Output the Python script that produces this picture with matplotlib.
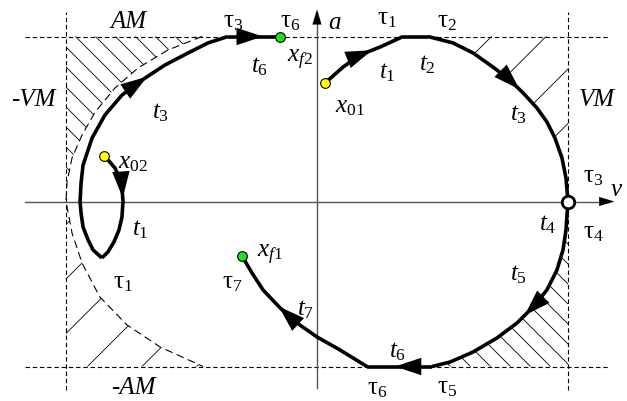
import numpy as np
import matplotlib.pyplot as plt
from matplotlib.patches import Polygon

plt.rcParams['font.family'] = 'Liberation Serif'
plt.rcParams['mathtext.fontset'] = 'custom'
plt.rcParams['mathtext.rm'] = 'Liberation Serif'
plt.rcParams['mathtext.it'] = 'Liberation Serif:italic'

# phase plane (v, a), scaled so that VM = AM = 1
# trajectory 1: x01 -> tau1 -> tau2 -> t4 -> tau5 -> tau6 -> xf1
seg1a_v = [0.032, 0.104, 0.171, 0.251, 0.343]
seg1a_a = [0.718, 0.815, 0.888, 0.936, 1.0]
seg1b_v = [0.343, 0.442]
seg1b_a = [1.0, 1.0]
seg1c_v = [0.442, 0.542, 0.622, 0.701, 0.769, 0.821, 0.876, 0.916, 0.948, 0.976, 0.992, 1.0]
seg1c_a = [1.0, 0.961, 0.900, 0.815, 0.736, 0.658, 0.567, 0.482, 0.385, 0.264, 0.142, 0.0]
seg1d_v = [1.0, 0.996, 0.992, 0.980, 0.956, 0.916, 0.861, 0.797, 0.717, 0.622, 0.530, 0.458]
seg1d_a = [0.0, -0.082, -0.173, -0.294, -0.415, -0.536, -0.639, -0.736, -0.827, -0.912, -0.973, -1.0]
seg1e_v = [0.458, 0.199]
seg1e_a = [-1.0, -1.0]
seg1f_v = [0.199, 0.092, 0.0, -0.080, -0.147, -0.215, -0.259, -0.299]
seg1f_a = [-1.0, -0.900, -0.821, -0.736, -0.645, -0.536, -0.433, -0.330]

# trajectory 2: x02 -> tau1 (cusp) -> tau3 -> xf2
seg2a_v = [-0.849, -0.825, -0.805, -0.789, -0.777, -0.773, -0.777, -0.789, -0.809, -0.833, -0.857]
seg2a_a = [0.276, 0.239, 0.203, 0.148, 0.088, 0.0, -0.094, -0.173, -0.245, -0.306, -0.342]
seg2b_v = [-0.857, -0.892, -0.912, -0.932, -0.940, -0.944, -0.940, -0.932, -0.896, -0.845,
           -0.777, -0.697, -0.606, -0.514, -0.434, -0.355]
seg2b_a = [-0.342, -0.294, -0.233, -0.155, -0.070, 0.0, 0.112, 0.221, 0.385, 0.524,
           0.645, 0.736, 0.827, 0.900, 0.961, 1.0]
seg2c_v = [-0.355, -0.147]
seg2c_a = [1.0, 1.0]

# dashed limit curve on the left
limit_v = [-0.458, -0.594, -0.713, -0.805, -0.884, -0.936, -0.976, -0.996, -1.0,
           -0.976, -0.936, -0.865, -0.757, -0.625, -0.454]
limit_a = [1.0, 0.918, 0.809, 0.688, 0.542, 0.403, 0.264, 0.118, 0.0,
           -0.191, -0.373, -0.579, -0.748, -0.882, -1.0]

SX, SY = 251.0, 165.0          # pixels per unit of v and a
X0, Y0 = 317.0, 201.5          # pixel position of the origin
W, H = 627, 401

fig = plt.figure(figsize=(W / 100, H / 100), dpi=100)
ax = fig.add_axes([0, 0, 1, 1])
ax.set_xlim(-X0 / SX, (W - X0) / SX)
ax.set_ylim(-(H - Y0) / SY, Y0 / SY)
ax.axis('off')

# axes with arrows
ax.plot([-1.163, 1.16], [0, 0], color='#555555', lw=1.0, zorder=2)
ax.plot([0, 0], [-1.13, 1.13], color='#555555', lw=1.0, zorder=2)
ax.annotate('', xy=(1.185, 0), xytext=(1.12, 0),
            arrowprops=dict(arrowstyle='-|>,head_length=1.0,head_width=0.3',
                            mutation_scale=11, color='k', lw=0, shrinkA=0, shrinkB=0))
ax.annotate('', xy=(0, 1.165), xytext=(0, 1.10),
            arrowprops=dict(arrowstyle='-|>,head_length=1.0,head_width=0.3',
                            mutation_scale=11, color='k', lw=0, shrinkA=0, shrinkB=0))

# limits
dash = dict(color='k', lw=0.8, ls=(0, (4, 2.5)), zorder=1)
ax.plot([-1.163, 1.167], [1, 1], **dash)
ax.plot([-1.163, 1.167], [-1, -1], **dash)
ax.plot([-1, -1], [-1.145, 1.148], **dash)
ax.plot([1, 1], [-1.145, 1.148], **dash)
ax.plot(limit_v, limit_a, color='k', lw=0.8, ls=(0, (7, 4)), zorder=1)


def hatch(verts, kind, spacing, offset):
    patch = Polygon(verts, closed=True, fill=False, lw=0)
    ax.add_patch(patch)
    vv = np.array([-1.4, 1.4])
    for c in np.arange(offset - 40 * spacing, offset + 40 * spacing, spacing):
        if kind == '\\':
            aa = (c - (X0 - Y0) - SX * vv) / SY
        else:
            aa = (X0 + Y0 + SX * vv - c) / SY
        ln, = ax.plot(vv, aa, color='k', lw=0.6, zorder=1)
        ln.set_clip_path(patch)


lim_top = list(zip(limit_v[:9], limit_a[:9]))
lim_bot = list(zip(limit_v[8:], limit_a[8:]))
hatch(lim_top + [(-1, 1)], '\\', 20, 19)
hatch(lim_bot + [(-1, -1)], '/', 54.5, 345)
hatch(list(zip(seg1c_v, seg1c_a)) + [(1, 1)], '/', 54.5, 528)
hatch(list(zip(seg1d_v, seg1d_a)) + [(1, -1)], '\\', 20, 4)

# trajectories
segs = [(seg1a_v, seg1a_a), (seg1b_v, seg1b_a), (seg1c_v, seg1c_a), (seg1d_v, seg1d_a),
        (seg1e_v, seg1e_a), (seg1f_v, seg1f_a), (seg2a_v, seg2a_a), (seg2b_v, seg2b_a),
        (seg2c_v, seg2c_a)]
for sv, sa in segs:
    ax.plot(sv, sa, color='k', lw=2.6, solid_joinstyle='round', solid_capstyle='butt', zorder=3)


def along(sv, sa, frac):
    x = np.asarray(sv) * SX
    y = np.asarray(sa) * SY
    s = np.concatenate([[0], np.cumsum(np.hypot(np.diff(x), np.diff(y)))])
    t = frac * s[-1]
    return np.interp(t, s, sv), np.interp(t, s, sa), np.interp(t - 8, s, sv), np.interp(t - 8, s, sa)


arrow_list = [(seg1a_v, seg1a_a, 0.63), (seg1c_v, seg1c_a, 0.46), (seg1d_v, seg1d_a, 0.54),
              (seg1e_v, seg1e_a, 0.57), (seg1f_v, seg1f_a, 0.63), (seg2a_v, seg2a_a, 0.42),
              (seg2b_v, seg2b_a, 0.70), (seg2c_v, seg2c_a, 0.67)]
for sv, sa, f in arrow_list:
    tv, ta, bv, ba = along(sv, sa, f)
    ax.annotate('', xy=(tv, ta), xytext=(bv, ba),
                arrowprops=dict(arrowstyle='-|>,head_length=1.0,head_width=0.33',
                                mutation_scale=19, color='k', lw=0, shrinkA=0, shrinkB=0),
                zorder=4)

# start / end points
ax.plot([seg1a_v[0], seg2a_v[0]], [seg1a_a[0], seg2a_a[0]], 'o', ms=7, mfc='#ffff00',
        mec='k', mew=0.8, zorder=5)
ax.plot([seg1f_v[-1], seg2c_v[-1]], [seg1f_a[-1], seg2c_a[-1]], 'o', ms=7, mfc='#22dd22',
        mec='k', mew=0.8, zorder=5)
ax.plot([seg1c_v[-1]], [seg1c_a[-1]], 'o', ms=9, mfc='white', mec='k', mew=2, zorder=5)

# labels
fs = 18
labels = [
    (r'$\mathrm{\tau}_3$', -0.335, 1.088), (r'$\mathrm{\tau}_6$', -0.108, 1.088),
    (r'$t_6$', -0.227, 0.815), (r'$x_{f2}$', -0.068, 0.858), (r'$t_3$', -0.625, 0.536),
    (r'$x_{02}$', -0.733, 0.233), (r'$a$', 0.072, 1.082),
    (r'$\mathrm{\tau}_1$', 0.279, 1.105), (r'$\mathrm{\tau}_2$', 0.518, 1.088),
    (r'$t_1$', 0.279, 0.779), (r'$t_2$', 0.438, 0.827), (r'$x_{01}$', 0.131, 0.573),
    (r'$t_3$', 0.801, 0.524), (r'$\mathrm{\tau}_3$', 1.100, 0.148), (r'$v$', 1.195, 0.07),
    (r'$t_4$', 0.920, -0.142), (r'$\mathrm{\tau}_4$', 1.100, -0.191), (r'$t_5$', 0.801, -0.445),
    (r'$t_6$', 0.319, -0.912), (r'$\mathrm{\tau}_6$', 0.239, -1.135),
    (r'$\mathrm{\tau}_5$', 0.518, -1.13), (r'$t_7$', -0.044, -0.658),
    (r'$\mathrm{\tau}_7$', -0.339, -0.494), (r'$x_{f1}$', -0.187, -0.324),
    (r'$t_1$', -0.705, -0.173), (r'$\mathrm{\tau}_1$', -0.773, -0.494),
]
for s, x, y in labels:
    ax.text(x, y, s, fontsize=fs, ha='center', va='center', zorder=6)

for s, x, y in [('AM', -0.753, 1.088), ('-AM', -0.733, -1.130),
                ('-VM', -1.131, 0.615), ('VM', 1.116, 0.615)]:
    ax.text(x, y, s, fontsize=fs, style='italic', ha='center', va='center', zorder=6)

fig.savefig('out.png', dpi=100)
